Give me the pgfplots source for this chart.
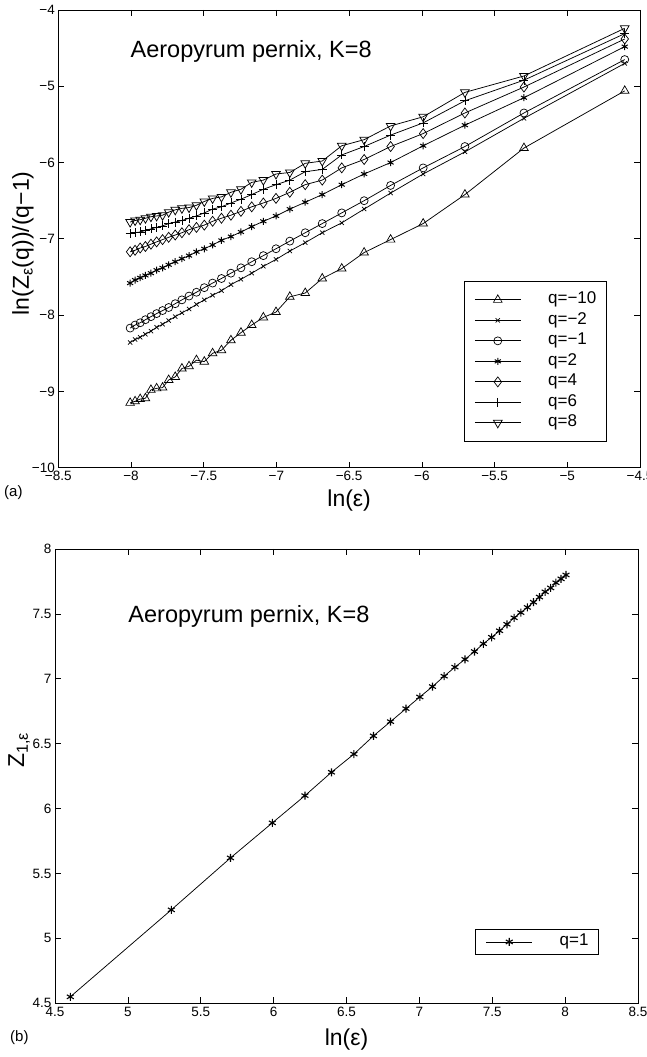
\documentclass[border=0pt]{standalone}
\usepackage{pgfplots}
\usepackage{pgfplotstable}
\pgfplotsset{compat=1.18}
\usepackage{fontspec}
\setmainfont{Liberation Sans}

\pgfplotstableread{
k x qmten qmtwo qmone qtwo qfour qsix qeight
1 -4.605 -5.06 -4.70 -4.65 -4.48 -4.38 -4.31 -4.24
2 -5.298 -5.81 -5.42 -5.35 -5.15 -5.01 -4.92 -4.865
3 -5.704 -6.42 -5.86 -5.79 -5.51 -5.35 -5.19 -5.08
4 -5.991 -6.80 -6.15 -6.07 -5.78 -5.62 -5.48 -5.40
5 -6.215 -7.01 -6.40 -6.30 -6.00 -5.79 -5.64 -5.52
6 -6.397 -7.18 -6.61 -6.50 -6.15 -5.96 -5.79 -5.70
7 -6.551 -7.39 -6.79 -6.66 -6.29 -6.07 -5.90 -5.78
8 -6.685 -7.52 -6.92 -6.80 -6.42 -6.23 -6.09 -5.98
9 -6.802 -7.71 -7.05 -6.92 -6.52 -6.29 -6.12 -6.01
10 -6.908 -7.76 -7.16 -7.03 -6.61 -6.39 -6.23 -6.13
11 -7.003 -7.96 -7.27 -7.13 -6.70 -6.47 -6.29 -6.15
12 -7.090 -8.03 -7.36 -7.22 -6.77 -6.53 -6.35 -6.23
13 -7.170 -8.13 -7.45 -7.30 -6.84 -6.58 -6.42 -6.26
14 -7.244 -8.23 -7.53 -7.38 -6.91 -6.64 -6.48 -6.35
15 -7.313 -8.33 -7.60 -7.45 -6.97 -6.69 -6.53 -6.39
16 -7.378 -8.46 -7.68 -7.52 -7.02 -6.73 -6.58 -6.45
17 -7.439 -8.50 -7.74 -7.58 -7.08 -6.77 -6.61 -6.47
18 -7.496 -8.61 -7.80 -7.64 -7.13 -6.82 -6.66 -6.51
19 -7.550 -8.59 -7.86 -7.70 -7.17 -6.85 -6.70 -6.56
20 -7.601 -8.67 -7.92 -7.75 -7.22 -6.88 -6.73 -6.59
21 -7.650 -8.70 -7.97 -7.80 -7.26 -6.92 -6.76 -6.60
22 -7.696 -8.81 -8.02 -7.85 -7.30 -6.95 -6.78 -6.62
23 -7.741 -8.85 -8.07 -7.90 -7.34 -6.98 -6.80 -6.65
24 -7.783 -8.95 -8.12 -7.94 -7.38 -7.01 -6.83 -6.69
25 -7.824 -8.96 -8.16 -7.98 -7.41 -7.04 -6.85 -6.70
26 -7.863 -8.98 -8.21 -8.02 -7.45 -7.07 -6.87 -6.71
27 -7.901 -9.09 -8.25 -8.06 -7.48 -7.10 -6.89 -6.73
28 -7.937 -9.10 -8.29 -8.10 -7.51 -7.12 -6.91 -6.75
29 -7.972 -9.13 -8.32 -8.13 -7.54 -7.15 -6.92 -6.76
30 -8.006 -9.15 -8.36 -8.17 -7.58 -7.17 -6.93 -6.78
}\toptable

\pgfplotstableread{
k x y
1 4.605 4.55
2 5.298 5.22
3 5.704 5.62
4 5.991 5.89
5 6.215 6.10
6 6.397 6.28
7 6.551 6.42
8 6.685 6.56
9 6.802 6.67
10 6.908 6.77
11 7.003 6.86
12 7.090 6.94
13 7.170 7.02
14 7.244 7.09
15 7.313 7.15
16 7.378 7.21
17 7.439 7.27
18 7.496 7.32
19 7.550 7.37
20 7.601 7.42
21 7.650 7.47
22 7.696 7.51
23 7.741 7.55
24 7.783 7.59
25 7.824 7.63
26 7.863 7.67
27 7.901 7.70
28 7.937 7.74
29 7.972 7.77
30 8.006 7.80
}\bottable

\pgfplotsset{
  myaxis/.style={
    scale only axis,
    axis line style={line width=0.9pt},
    every tick/.style={line width=0.7pt, black},
    major tick length=6pt,
    tick align=inside,
    ticklabel style={font=\fontsize{13.5}{15}\selectfont},
    label style={font=\fontsize{23}{26}\selectfont},
    legend cell align=left,
    legend image code/.code={%
      \draw[mark repeat=2,mark phase=2,##1] plot coordinates {(0pt,0pt) (23pt,0pt) (46pt,0pt)};},
    legend style={draw=black, line width=0.9pt, font=\fontsize{17}{18}\selectfont,
      inner xsep=10pt, inner ysep=11pt, row sep=5pt, column sep=27pt,
      nodes={inner sep=0pt, text height=11.5pt, text depth=4pt}},
  },
  dl/.style={black, line width=0.75pt, mark options={solid, line width=0.7pt}},
}

\begin{document}
\begin{tikzpicture}[x=1pt,y=1pt]
\useasboundingbox (0,0) rectangle (647,1057);

\begin{axis}[myaxis,
  at={(58.3pt,589.3pt)}, anchor=south west,
  width=581.7pt, height=457.7pt,
  xmin=-8.5, xmax=-4.5, ymin=-10, ymax=-4,
  xtick={-8.5,-8,-7.5,-7,-6.5,-6,-5.5,-5,-4.5},
  xticklabels={−8.5,−8,−7.5,−7,−6.5,−6,−5.5,−5,−4.5},
  ytick={-10,-9,-8,-7,-6,-5,-4},
  yticklabels={−10,−9,−8,−7,−6,−5,−4},
  xlabel={ln(ε)},
  xlabel style={at={(axis description cs:0.5,-0.0728)}, anchor=center},
  ylabel={ln(Z\textsubscript{ε}(q))/(q−1)},
  ylabel style={at={(axis description cs:-0.0607,0.49)}, anchor=center},
  legend style={at={(axis description cs:0.943,0.056)}, anchor=south east},
]
\addplot[dl, mark=triangle, mark size=5pt] table[x=x,y=qmten] {\toptable};
\addlegendentry{q=−10}
\addplot[dl, mark=x, mark size=3pt] table[x=x,y=qmtwo] {\toptable};
\addlegendentry{q=−2}
\addplot[dl, mark=o, mark size=4pt] table[x=x,y=qmone] {\toptable};
\addlegendentry{q=−1}
\addplot[dl, mark=asterisk, mark size=3.5pt, mark options={line width=1pt}] table[x=x,y=qtwo] {\toptable};
\addlegendentry{q=2}
\addplot[dl, mark=diamond, mark size=5pt] table[x=x,y=qfour] {\toptable};
\addlegendentry{q=4}
\addplot[dl, mark=+, mark size=4.5pt] table[x=x,y=qsix] {\toptable};
\addlegendentry{q=6}
\addplot[dl, mark=triangle, mark size=5pt, mark options={rotate=180}] table[x=x,y=qeight] {\toptable};
\addlegendentry{q=8}
\node[anchor=base west, font=\fontsize{23.5}{28}\selectfont, inner sep=0pt] at (axis description cs:0.124,0.897) {Aeropyrum pernix, K=8};
\end{axis}

\begin{axis}[myaxis,
  at={(55pt,53.7pt)}, anchor=south west,
  width=583pt, height=454.3pt,
  xmin=4.5, xmax=8.5, ymin=4.5, ymax=8,
  xtick={4.5,5,5.5,6,6.5,7,7.5,8,8.5},
  xticklabels={4.5,5,5.5,6,6.5,7,7.5,8,8.5},
  ytick={4.5,5,5.5,6,6.5,7,7.5,8},
  yticklabels={4.5,5,5.5,6,6.5,7,7.5,8},
  xlabel={ln(ε)},
  xlabel style={at={(axis description cs:0.5,-0.080)}, anchor=center},
  ylabel={Z\textsubscript{1,ε}},
  ylabel style={at={(axis description cs:-0.0617,0.557)}, anchor=center},
  legend style={at={(axis description cs:0.933,0.106)}, anchor=south east, inner ysep=5pt},
]
\addplot[dl, mark=asterisk, mark size=4pt, mark options={line width=1.1pt}] table[x=x,y=y] {\bottable};
\addlegendentry{q=1}
\node[anchor=base west, font=\fontsize{23.5}{28}\selectfont, inner sep=0pt] at (axis description cs:0.1257,0.839) {Aeropyrum pernix, K=8};
\end{axis}

\node[anchor=west, font=\fontsize{15}{17}\selectfont, inner sep=0pt] at (4,564) {(a)};
\node[anchor=west, font=\fontsize{15}{17}\selectfont, inner sep=0pt] at (10,19) {(b)};
\end{tikzpicture}
\end{document}
